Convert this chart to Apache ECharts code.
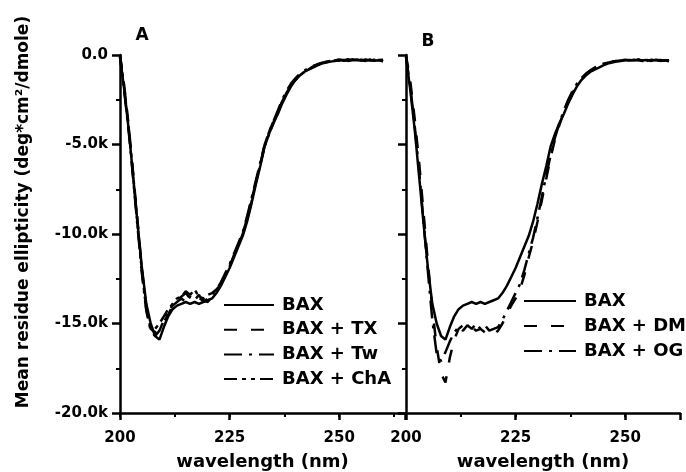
<!DOCTYPE html>
<html>
<head>
<meta charset="utf-8">
<script src="https://cdn.jsdelivr.net/npm/echarts@6/dist/echarts.min.js"></script>
<style>
  html, body { margin: 0; padding: 0; background: #fff; }
  #cd-chart { width: 686px; height: 472px; }
</style>
</head>
<body>
<div id="cd-chart"></div>
<script>
// wavelength grid (nm), one value per nm
const wl = [200,201,202,203,204,205,206,207,208,209,210,211,212,213,214,215,216,217,218,219,220,
  221,222,223,224,225,226,227,228,229,230,231,232,233,234,235,236,237,238,239,240,
  241,242,243,244,245,246,247,248,249,250,251,252,253,254,255,256,257,258,259,260];

// panel A + B: BAX alone
const bax = [-100,-2000,-4200,-6800,-9400,-11900,-13900,-15000,-15700,-15900,-15200,
  -14600,-14200,-14000,-13900,-13800,-13900,-13800,-13900,-13800,-13700,
  -13600,-13300,-12900,-12400,-11900,-11300,-10700,-10100,-9300,-8300,
  -7200,-6200,-5100,-4400,-3800,-3300,-2700,-2200,-1750,-1400,
  -1150,-950,-820,-700,-580,-480,-420,-370,-330,-300,
  -280,-310,-260,-300,-280,-330,-270,-320,-290,-350];
// panel A detergents
const baxTX = [0,-1800,-4000,-6600,-9300,-12000,-14100,-15300,-15500,-15300,-14900,
  -14500,-14000,-13700,-13500,-13300,-13600,-13400,-13600,-13700,-13800,
  -13500,-13200,-12800,-12300,-11800,-11200,-10600,-10000,-9200,-8200,
  -7100,-6100,-5000,-4300,-3700,-3200,-2600,-2100,-1700,-1350,
  -1100,-900,-780,-650,-540,-450,-380,-330,-290,-250,
  -300,-240,-320,-260,-330,-250,-310,-280,-340,-300];
const baxTw = [-100,-2100,-4300,-6900,-9600,-12200,-14300,-15400,-15700,-15400,-14800,
  -14300,-14000,-13800,-13600,-13800,-13500,-13700,-13400,-13800,-13600,
  -13400,-13100,-12700,-12200,-11700,-11100,-10500,-9900,-9000,-8000,
  -7000,-6000,-5000,-4300,-3700,-3100,-2500,-2000,-1600,-1300,
  -1050,-880,-740,-620,-520,-440,-380,-330,-300,-320,
  -260,-330,-280,-250,-310,-270,-340,-260,-300,-330];
const baxChA = [0,-1900,-4100,-6700,-9400,-12100,-14200,-15200,-15300,-15000,-14600,
  -14200,-13900,-13600,-13500,-13200,-13400,-13100,-13500,-13600,-13400,
  -13300,-13100,-12800,-12300,-11800,-11200,-10600,-10000,-9100,-8100,
  -7100,-6100,-5100,-4400,-3800,-3200,-2600,-2100,-1700,-1400,
  -1150,-950,-800,-660,-560,-460,-400,-350,-310,-270,
  -320,-290,-250,-330,-270,-300,-260,-340,-280,-260];
// panel B detergents
const baxDM = [0,-1500,-3600,-6000,-8800,-11600,-14200,-16300,-17800,-18300,-16900,
  -15900,-15300,-15100,-15300,-15200,-15400,-15300,-15500,-15400,-15600,
  -15400,-15000,-14500,-14000,-13600,-13100,-12300,-11300,-10400,-9300,
  -8100,-6900,-5700,-4700,-3900,-3200,-2600,-2100,-1700,-1350,
  -1100,-900,-740,-600,-500,-430,-380,-340,-300,-280,
  -320,-260,-300,-340,-270,-310,-250,-330,-290,-300];
const baxOG = [-100,-1800,-4000,-6500,-9300,-12100,-14800,-16700,-17100,-16600,-16000,
  -15500,-15200,-15400,-15100,-15300,-15000,-15300,-15100,-15400,-15300,
  -15200,-14800,-14300,-13800,-13300,-12800,-12000,-11100,-10200,-9100,
  -7900,-6700,-5600,-4600,-3800,-3100,-2500,-2000,-1600,-1300,
  -1050,-860,-710,-590,-490,-420,-370,-330,-300,-270,
  -310,-280,-250,-300,-330,-260,-300,-280,-320,-270];

// panel B reuses "BAX" -> trailing space keeps the two legends apart
const namesA = ["BAX", "BAX + TX", "BAX + Tw", "BAX + ChA"];
const namesB = ["BAX ", "BAX + DM", "BAX + OG"];

const FONT = "DejaVu Sans";
const dashStyles = {
  solid: "solid",
  dash: [13, 14],
  dashDot: [18, 7, 3, 7],
  dashDotDot: [13, 5, 4, 5, 4, 5]
};

function pairs(arr) {
  return wl.map((x, i) => [x, arr[i]]);
}

function makeLine(name, arr, dash, idx) {
  return {
    name: name,
    type: "line",
    xAxisIndex: idx,
    yAxisIndex: idx,
    showSymbol: false,
    symbol: "none",
    silent: true,
    animation: false,
    itemStyle: { color: "#000" },
    lineStyle: { color: "#000", width: 2.5, type: dash },
    data: pairs(arr)
  };
}

// minor ticks every 12.5 nm, labels every 25 nm
function xAxisFor(idx, max) {
  return {
    gridIndex: idx,
    type: "value",
    min: 200,
    max: max,
    interval: 12.5,
    name: "wavelength (nm)",
    nameLocation: "middle",
    nameGap: 40,
    nameTextStyle: { fontFamily: FONT, fontWeight: "bold", fontSize: 18, color: "#000" },
    axisLine: { onZero: false, lineStyle: { color: "#000", width: 2.5 } },
    axisTick: { lineStyle: { color: "#000", width: 2 }, length: 4 },
    axisLabel: {
      margin: 18,
      fontFamily: FONT, fontWeight: "bold", fontSize: 15, color: "#000",
      showMaxLabel: false,
      formatter: v => (v % 25 === 0 ? String(v) : "")
    },
    splitLine: { show: false }
  };
}

// longer major ticks at every 25 nm
function xMajorFor(idx, max) {
  return {
    gridIndex: idx,
    type: "value",
    min: 200,
    max: max,
    interval: 25,
    position: "bottom",
    axisLine: { show: false, onZero: false },
    axisTick: { lineStyle: { color: "#000", width: 2.5 }, length: 7 },
    axisLabel: { show: false },
    splitLine: { show: false }
  };
}

function yAxisFor(idx, showLabels) {
  return {
    gridIndex: idx,
    type: "value",
    min: -20000,
    max: 0,
    interval: 5000,
    axisLine: { onZero: false, lineStyle: { color: "#000", width: 2.5 } },
    axisTick: { lineStyle: { color: "#000", width: 2.5 }, length: 8 },
    minorTick: { show: true, splitNumber: 2, length: 4, lineStyle: { color: "#000", width: 2 } },
    axisLabel: {
      show: showLabels,
      margin: 12,
      fontFamily: FONT, fontWeight: "bold", fontSize: 15, color: "#000",
      formatter: v => (v === 0 ? "0.0" : (v / 1000).toFixed(1) + "k")
    },
    splitLine: { show: false }
  };
}

const legendText = { fontFamily: FONT, fontWeight: "bold", fontSize: 18, color: "#000", padding: [0, 0, 0, 3] };
const legendBase = {
  orient: "vertical", padding: 0, itemHeight: 14, itemGap: 6.7,
  selectedMode: false, textStyle: legendText,
  itemStyle: { color: "rgba(0,0,0,0)", borderWidth: 0 }
};

const chart = echarts.init(document.getElementById("cd-chart"), null, { renderer: "canvas" });
chart.setOption({
  backgroundColor: "#fff",
  animation: false,
  grid: [
    { left: 120, top: 55, width: 285, height: 358, outerBoundsMode: "none", containLabel: false },
    { left: 406, top: 55, width: 274, height: 358, outerBoundsMode: "none", containLabel: false }
  ],
  xAxis: [xAxisFor(0, 265), xAxisFor(1, 262.5), xMajorFor(0, 265), xMajorFor(1, 262.5)],
  yAxis: [yAxisFor(0, true), yAxisFor(1, false)],
  legend: [
    Object.assign({}, legendBase, { data: namesA, left: 223, top: 296, itemWidth: 50 }),
    Object.assign({}, legendBase, { data: namesB, left: 523, top: 292, itemWidth: 52, itemGap: 7 })
  ],
  graphic: [
    {
      type: "text", x: 24, y: 212, rotation: Math.PI / 2,
      style: {
        text: "Mean residue ellipticity (deg*cm\u00b2/dmole)",
        font: "bold 17px " + FONT, fill: "#000",
        align: "center", verticalAlign: "middle"
      }
    },
    { type: "text", x: 142, y: 36, style: { text: "A", font: "bold 17px " + FONT, fill: "#000", align: "center", verticalAlign: "middle" } },
    { type: "text", x: 428, y: 42, style: { text: "B", font: "bold 17px " + FONT, fill: "#000", align: "center", verticalAlign: "middle" } }
  ],
  series: [
    makeLine(namesA[0], bax, dashStyles.solid, 0),
    makeLine(namesA[1], baxTX, dashStyles.dash, 0),
    makeLine(namesA[2], baxTw, dashStyles.dashDot, 0),
    makeLine(namesA[3], baxChA, dashStyles.dashDotDot, 0),
    makeLine(namesB[0], bax, dashStyles.solid, 1),
    makeLine(namesB[1], baxDM, dashStyles.dash, 1),
    makeLine(namesB[2], baxOG, dashStyles.dashDot, 1)
  ]
});
</script>
</body>
</html>
